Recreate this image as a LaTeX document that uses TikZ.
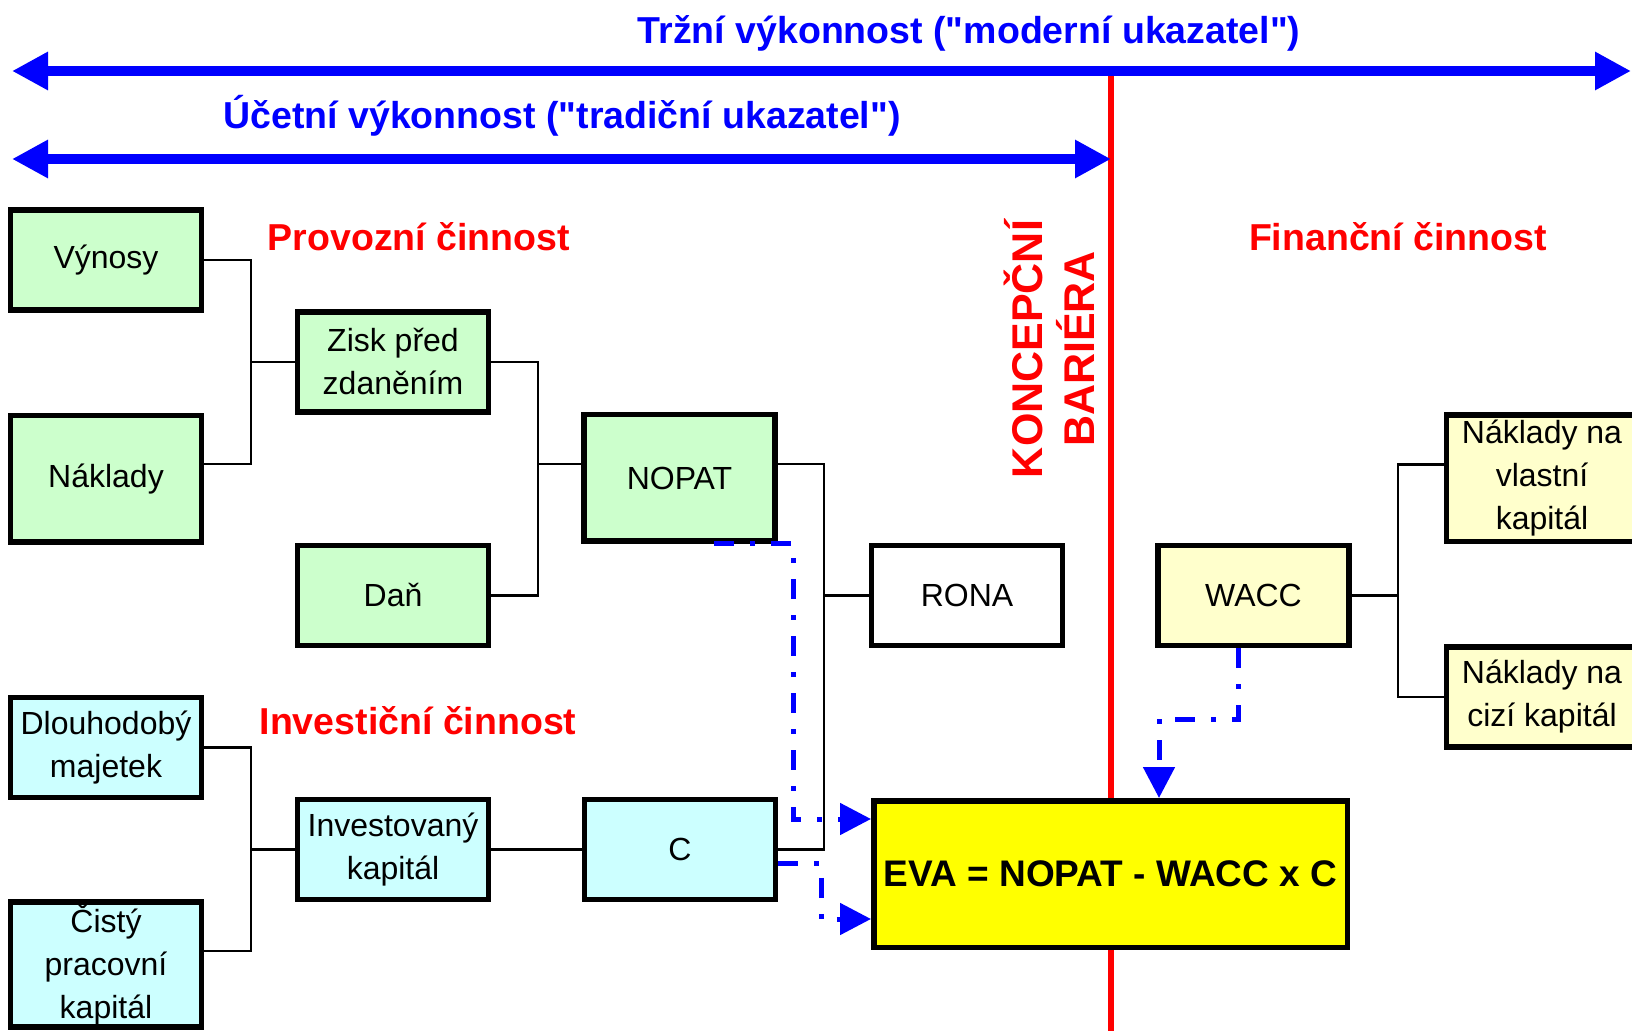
\documentclass[tikz,border=0pt]{standalone}
\usepackage{fontspec}
\setmainfont{Liberation Sans}
\usetikzlibrary{arrows.meta}
\definecolor{boxgreen}{HTML}{CCFFCC}
\definecolor{boxcyan}{HTML}{CCFFFF}
\definecolor{boxyellow}{HTML}{FFFFCC}
\definecolor{evayellow}{HTML}{FFFF00}
\begin{document}
\begin{tikzpicture}[x=0.5pt, y=-0.5pt,
    box/.style={draw=black, line width=2.75pt, minimum width=95.5pt, minimum height=50pt, inner sep=1pt, align=center, font=\fontsize{16}{21.5}\selectfont},
    tallbox/.style={box, minimum height=63.25pt},
    link/.style={line width=1.25pt},
    flow/.style={blue, line width=2.5pt, dash pattern=on 10pt off 8pt on 2.5pt off 8pt, -{Triangle[length=15.5pt,width=15.5pt]}},
    span/.style={blue, line width=5pt, {Triangle[length=18pt,width=18pt]}-{Triangle[length=18pt,width=18pt]}},
    heading/.style={blue, font=\bfseries\fontsize{18.75}{22}\selectfont, anchor=base},
    area/.style={red, font=\bfseries\fontsize{18.75}{22}\selectfont, anchor=base}]
    \useasboundingbox (0,0) rectangle (1632,1031);
    % barrier and the two ranges
    \coordinate (bartop) at (1111,71);
    \coordinate (barbot) at (1111,1031);
    \draw[red, line width=3pt] (bartop) -- (barbot);
    \coordinate (tl) at (12,71);
    \coordinate (tr) at (1631,71);
    \coordinate (ul) at (12,159);
    \draw[span] (tl) -- (tr);
    \draw[span] (ul) -- (bartop |- ul);
    \node(trzni) at (969,44) [heading] {Tržní výkonnost (\textquotedbl moderní ukazatel\textquotedbl)};
    \node(ucetni) at (562,129) [heading] {Účetní výkonnost (\textquotedbl tradiční ukazatel\textquotedbl)};
    \node(provozni) at (419,251) [area] {Provozní činnost};
    \node(investicni) at (418,734) [area] {Investiční činnost};
    \node(financni) at (1398,251) [area] {Finanční činnost};
    \node(bariera) at (1049,349) [red, rotate=90, align=center, font=\bfseries\fontsize{21.5}{26}\selectfont] {KONCEPČNÍ\\BARIÉRA};
    % boxes
    \node(vynosy) at (106,260) [box, fill=boxgreen] {Výnosy};
    \node(naklady) at (106,479) [tallbox, fill=boxgreen] {Náklady};
    \node(zisk) at (393,362) [box, fill=boxgreen] {Zisk před\\zdaněním};
    \node(dan) at (393,595.5) [box, fill=boxgreen] {Daň};
    \node(nopat) at (679.5,478) [tallbox, fill=boxgreen] {NOPAT};
    \node(rona) at (967,595.5) [box, fill=white] {RONA};
    \node(dlouh) at (106,747.5) [box, fill=boxcyan] {Dlouhodobý\\majetek};
    \node(invest) at (393,849.5) [box, fill=boxcyan] {Investovaný\\kapitál};
    \node(cap) at (680,849.5) [box, fill=boxcyan] {C};
    \node(cisty) at (106,964.5) [box, fill=boxcyan, minimum height=60.75pt] {Čistý\\pracovní\\kapitál};
    \node(wacc) at (1253.5,595.5) [box, fill=boxyellow] {WACC};
    \node(nvlast) at (1542,478.5) [tallbox, fill=boxyellow] {Náklady na\\vlastní\\kapitál};
    \node(ncizi) at (1542,697) [box, fill=boxyellow] {Náklady na\\cizí kapitál};
    \node(eva) at (1110.5,874) [box, fill=evayellow, minimum width=236.75pt, minimum height=73.25pt, font=\bfseries\fontsize{18.5}{22}\selectfont] {EVA = NOPAT - WACC x C};
    % tree lines
    \coordinate (j1) at (251,362);
    \draw[link] (vynosy.east) -| (j1) |- ([yshift=7.5pt]naklady.east);
    \draw[link] (j1) -- (zisk.west);
    \coordinate (j2) at (538,464);
    \draw[link] (zisk.east) -| (j2) |- (dan.east);
    \draw[link] (j2) -- ([yshift=7pt]nopat.west);
    \coordinate (j3) at (824,595.5);
    \draw[link] ([yshift=7pt]nopat.east) -| (j3) |- (cap.east);
    \draw[link] (j3) -- (rona.west);
    \coordinate (j4) at (251,849.5);
    \draw[link] (dlouh.east) -| (j4) |- ([yshift=6.75pt]cisty.east);
    \draw[link] (j4) -- (invest.west);
    \draw[link] (invest) -- (cap);
    \coordinate (j5) at (1398,595.5);
    \draw[link] ([yshift=7pt]nvlast.west) -| (j5) |- (ncizi.west);
    \draw[link] (wacc.east) -- (j5);
    % inputs of EVA
    \coordinate (f1) at (793,819);
    \draw[flow] ([xshift=17.25pt]nopat.south) -| (f1) -- (f1 -| eva.west);
    \coordinate (f2) at (821,919);
    \draw[flow] ([yshift=-7pt]cap.east) -| (f2) -- (f2 -| eva.west);
    \coordinate (f3) at (1159,719);
    \draw[flow] ([xshift=-7.75pt]wacc.south) |- (f3) -- (f3 |- eva.north);
\end{tikzpicture}
\end{document}
